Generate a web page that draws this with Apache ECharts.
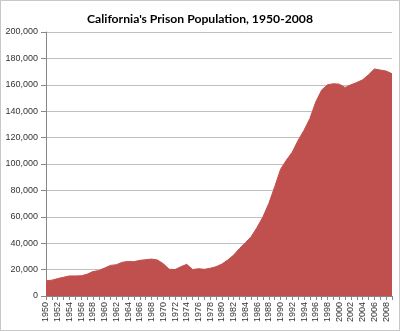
<!DOCTYPE html>
<html>
<head>
<meta charset="utf-8">
<script src="https://cdn.jsdelivr.net/npm/echarts@6/dist/echarts.min.js"></script>
<style>
  html, body { margin: 0; padding: 0; background: #fff; }
  #chart { width: 398px; height: 329px; border: 1px solid #c8c8c8; }
</style>
</head>
<body>
<div id="chart"></div>
<script>
// California prison population by year
const years = [];
for (let y = 1950; y <= 2009; y++) years.push(String(y));

const population = [
  11500, 12000, 13200, 14200, 15200, 15200, 15300, 16500, 18500, 19300,
  21200, 23200, 23700, 25500, 26200, 26000, 27000, 27500, 28000, 27300,
  24500, 20300, 20000, 22200, 24000, 20000, 20700, 20200, 21000, 22200,
  24200, 27300, 31000, 36000, 40400, 45000, 52000, 60000, 70200, 82800,
  96000, 103000, 109000, 118000, 125600, 134500, 147000, 156000, 160000, 160800,
  160500, 158000, 160000, 161800, 163800, 167600, 172000, 171200, 170400, 168400
];

const yTicks = { min: 0, max: 200000, step: 20000 };

const chart = echarts.init(document.getElementById('chart'), null, { renderer: 'canvas' });
chart.setOption({
  animation: false,
  title: {
    text: "California's Prison Population, 1950-2008",
    left: 'center',
    top: 7,
    textStyle: { fontFamily: 'Lato', fontWeight: 'bold', fontSize: 12.2, color: '#000' }
  },
  grid: { left: 45, right: 7, top: 31, bottom: 34, containLabel: false },
  xAxis: {
    type: 'category',
    data: years,
    boundaryGap: false,
    axisLine: { lineStyle: { color: '#868686', width: 1 } },
    axisTick: { show: true, interval: 0, length: 4, lineStyle: { color: '#868686' } },
    axisLabel: {
      interval: 1,
      rotate: 90,
      fontFamily: 'Liberation Sans',
      fontSize: 9,
      color: '#333',
      margin: 6
    },
    splitLine: { show: false }
  },
  yAxis: {
    type: 'value',
    min: yTicks.min,
    max: yTicks.max,
    interval: yTicks.step,
    axisLine: { show: true, lineStyle: { color: '#868686', width: 1 } },
    axisTick: { show: true, length: 5, inside: false, lineStyle: { color: '#868686' } },
    axisLabel: {
      fontFamily: 'Liberation Sans',
      fontSize: 9,
      color: '#333',
      margin: 8,
      formatter: v => v.toLocaleString('en-US')
    },
    splitLine: { lineStyle: { color: '#c0c0c0', width: 1 } }
  },
  series: [{
    type: 'line',
    data: population,
    symbol: 'none',
    smooth: false,
    lineStyle: { color: '#C0504D', width: 1 },
    areaStyle: { color: '#C0504D', opacity: 1 },
    itemStyle: { color: '#C0504D' }
  }]
});
</script>
</body>
</html>
